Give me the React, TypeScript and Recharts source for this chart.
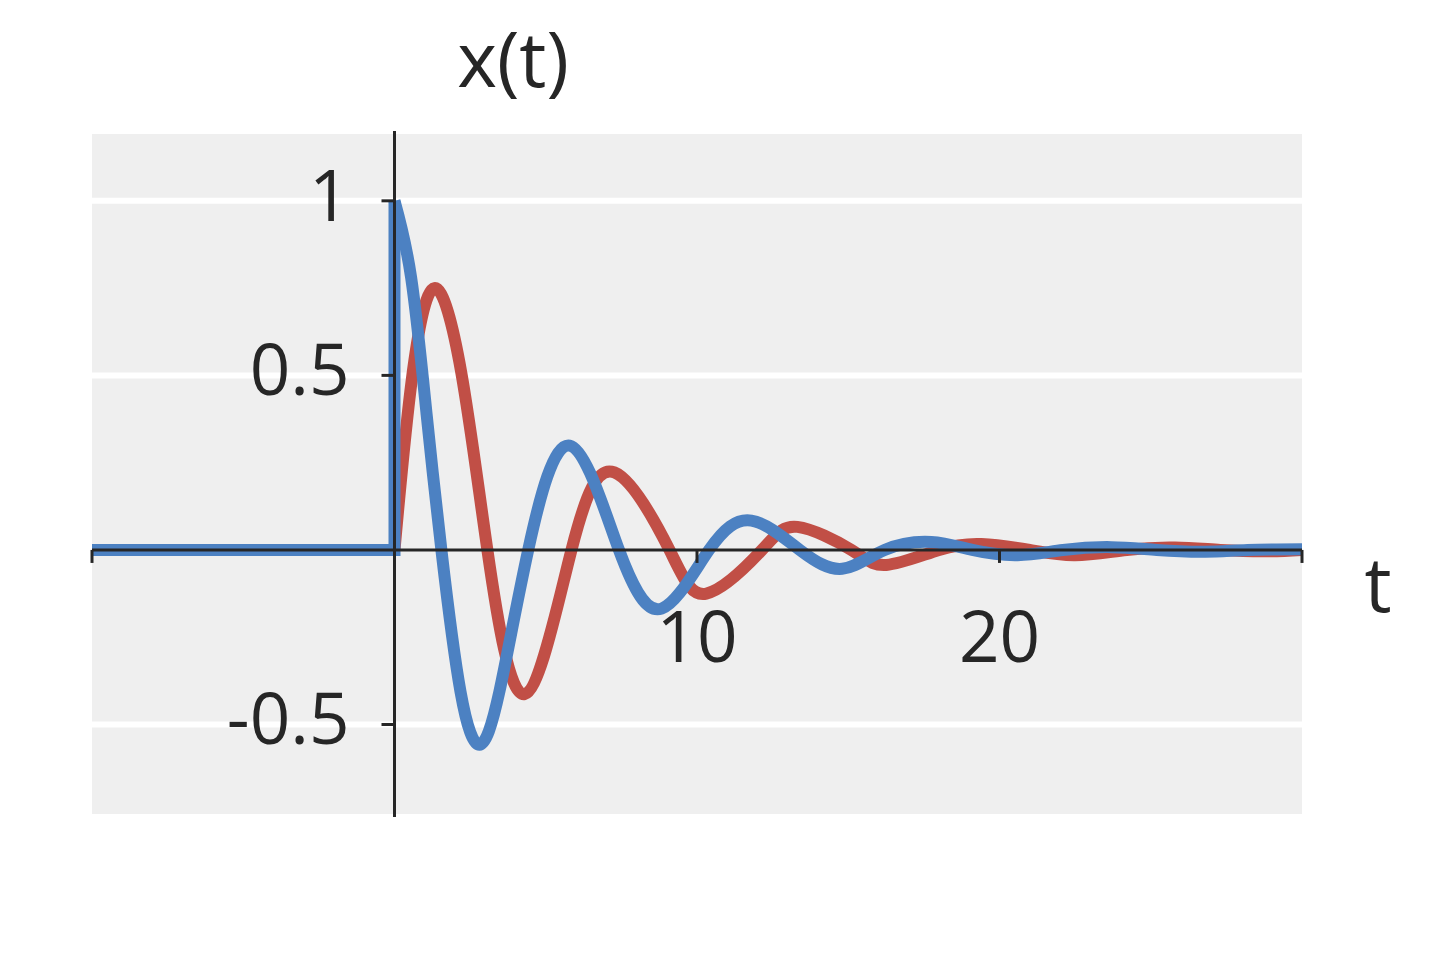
import React from "react";
import { LineChart, Line, XAxis, YAxis, CartesianGrid, ReferenceLine } from "recharts";

const W = 1440;
const H = 960;
const PLOT = { top: 131, right: 138, bottom: 143, left: 92 };
const X_DOMAIN: [number, number] = [-10, 30];
const Y_DOMAIN: [number, number] = [-0.765, 1.2];
const INK = "#262626";
const FONT = "'Open Sans', 'Noto Sans', sans-serif";
const BLUE = "#4c81c2";
const RED = "#c14f46";

// ticks
const xTicks = [-10, 10, 20, 30];
const xTickLabels = ["", "10", "20", ""];
const yTicks = [-0.5, 0.5, 1];
const yTickLabels = ["-0.5", "0.5", "1"];

// before t = 0 (and the jump of the blue curve at t = 0)
const bluePreT = [-10, 0, 0];
const bluePreV = [0, 0, 1];
const redPreT = [-10, 0];
const redPreV = [0, 0];

// peaks, zero crossings, a few points on the first swing
const blueT = [0, 0.55, 1.06, 1.55, 2.18, 2.81, 3.47, 4.42, 5.79, 7.42, 8.83, 10.4, 11.8, 13.4, 14.8, 16.2, 17.75, 19.1, 20.6, 22.1, 23.7, 25.2, 26.8, 28.2, 30];
const blueV = [1, 0.78, 0.39, 0, -0.405, -0.558, -0.405, 0, 0.299, 0, -0.168, 0, 0.084, 0, -0.054, 0, 0.023, 0, -0.015, 0, 0.008, 0, -0.005, 0, 0.002];

const redT = [0, 0.57, 1.32, 2.21, 3.07, 4.3, 5.85, 7.27, 9.09, 10.31, 12.15, 13.32, 15.1, 16.26, 18.0, 19.4, 21.0, 22.5, 24.2, 25.8, 27.3, 28.8, 30];
const redV = [0, 0.487, 0.75, 0.507, 0, -0.413, 0, 0.222, 0, -0.125, 0, 0.066, 0, -0.043, 0, 0.017, 0, -0.015, 0, 0.007, 0, -0.004, 0];

const pts = (ts: number[], vs: number[]) => ts.map((t, i) => ({ t, v: vs[i] }));

const PLOT_W = W - PLOT.left - PLOT.right;
const PLOT_H = H - PLOT.top - PLOT.bottom;
const ZERO_Y = PLOT.top + (PLOT_H * Y_DOMAIN[1]) / (Y_DOMAIN[1] - Y_DOMAIN[0]);
const ZERO_X = PLOT.left + (PLOT_W * (0 - X_DOMAIN[0])) / (X_DOMAIN[1] - X_DOMAIN[0]);

const XTick = (props: any) => {
  const { x, payload } = props;
  const i = xTicks.indexOf(payload.value);
  return (
    <g>
      <line x1={x} x2={x} y1={ZERO_Y} y2={ZERO_Y + 13} stroke={INK} strokeWidth={3} />
      <text x={x} y={ZERO_Y + 112} textAnchor="middle" fill={INK} fontSize={71} fontFamily={FONT}>
        {xTickLabels[i]}
      </text>
    </g>
  );
};

const YTick = (props: any) => {
  const { y, payload } = props;
  const i = yTicks.indexOf(payload.value);
  return (
    <g>
      <line x1={ZERO_X - 13} x2={ZERO_X} y1={y} y2={y} stroke={INK} strokeWidth={3} />
      <text x={ZERO_X - 45} y={y + 20} textAnchor="end" fill={INK} fontSize={71} fontFamily={FONT}>
        {yTickLabels[i]}
      </text>
    </g>
  );
};

export default function App() {
  return (
    <div style={{ position: "absolute", left: 0, top: 0, width: W, height: H, background: "#fff" }}>
      <LineChart width={W} height={H} margin={{ top: PLOT.top, right: PLOT.right, bottom: 0, left: 0 }}>
        <CartesianGrid fill="#efefef" vertical={false} stroke="#ffffff" strokeWidth={6} />
        <XAxis
          type="number"
          dataKey="t"
          domain={X_DOMAIN}
          ticks={xTicks}
          allowDataOverflow
          height={PLOT.bottom}
          axisLine={false}
          tickLine={false}
          tick={XTick}
          interval={0}
        />
        <YAxis
          type="number"
          domain={Y_DOMAIN}
          ticks={yTicks}
          allowDataOverflow
          width={PLOT.left}
          axisLine={false}
          tickLine={false}
          tick={YTick}
          interval={0}
        />
        <Line data={pts(redPreT, redPreV)} dataKey="v" type="linear" stroke={RED} strokeWidth={12} dot={false} isAnimationActive={false} />
        <Line data={pts(redT, redV)} dataKey="v" type="natural" stroke={RED} strokeWidth={12} dot={false} isAnimationActive={false} />
        <Line data={pts(bluePreT, bluePreV)} dataKey="v" type="linear" stroke={BLUE} strokeWidth={12} dot={false} isAnimationActive={false} />
        <Line data={pts(blueT, blueV)} dataKey="v" type="natural" stroke={BLUE} strokeWidth={12} dot={false} isAnimationActive={false} />
        <ReferenceLine y={0} stroke={INK} strokeWidth={3} />
        <ReferenceLine x={0} stroke={INK} strokeWidth={3} />
      </LineChart>
      <svg width={W} height={H} style={{ position: "absolute", left: 0, top: 0, pointerEvents: "none" }}>
        <text x={513} y={87} textAnchor="middle" fill={INK} fontSize={76} fontFamily={FONT}>
          x(t)
        </text>
        <text x={1378} y={612} textAnchor="middle" fill={INK} fontSize={76} fontFamily={FONT}>
          t
        </text>
      </svg>
    </div>
  );
}
